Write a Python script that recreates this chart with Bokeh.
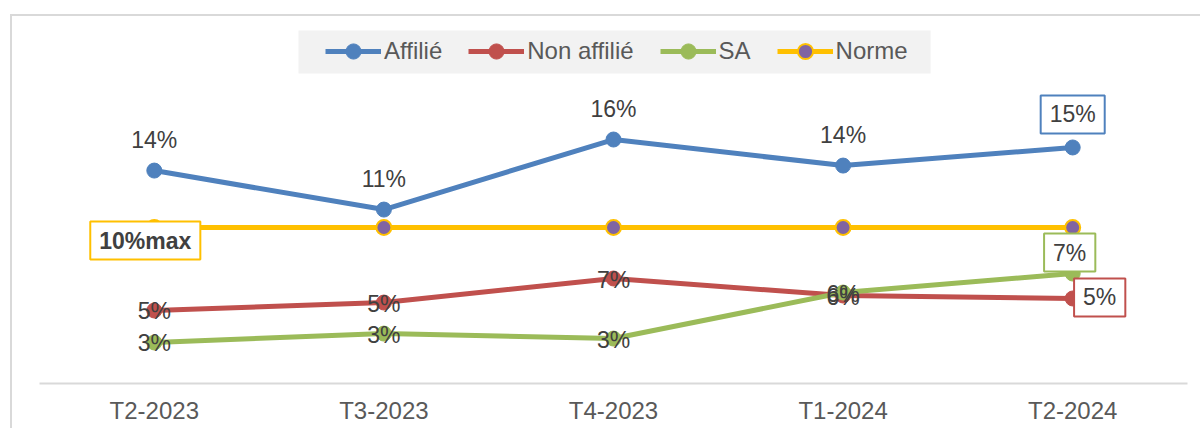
from bokeh.plotting import figure
from bokeh.models import (FactorRange, Range1d, Legend, LegendItem, BoxAnnotation,
                          ColumnDataSource)
from bokeh.core.properties import value
from bokeh.embed import file_html
from bokeh.resources import INLINE

# ---- data ----
categories = ["T2-2023", "T3-2023", "T4-2023", "T1-2024", "T2-2024"]
affilie = [13.65, 11.15, 15.64, 13.97, 15.13]
non_affilie = [4.68, 5.19, 6.73, 5.64, 5.45]
sa = [2.63, 3.20, 2.88, 5.83, 7.05]
norme = [10, 10, 10, 10, 10]
norme_label = "10%max"

FONT = "Liberation Sans"
C_AFF = "#4F81BD"
C_NON = "#C0504D"
C_SA = "#9BBB59"
C_NORME = "#FFC000"
C_NORME_FILL = "#8064A2"
TXT = "#404040"

def pct(v):
    return f"{round(v)}%"

p = figure(width=1190, height=414, x_range=FactorRange(factors=categories),
           y_range=Range1d(0, 23.27), output_backend="svg", toolbar_location=None,
           min_border_left=27, min_border_right=15, min_border_top=4,
           min_border_bottom=47,
           styles={"margin-left": "10px", "margin-top": "14px",
                   "border-left": "2px solid #d9d9d9",
                   "border-top": "2px solid #d9d9d9"})
p.outline_line_color = None
p.xgrid.visible = False
p.ygrid.visible = False
p.yaxis.visible = False
p.background_fill_color = "white"
p.border_fill_color = "white"

ax = p.xaxis[0]
ax.axis_line_color = "#d9d9d9"
ax.axis_line_width = 2
ax.major_tick_line_color = None
ax.minor_tick_line_color = None
ax.major_tick_out = 0
ax.major_tick_in = 0
ax.major_label_standoff = 13
ax.major_label_text_font = FONT
ax.major_label_text_font_size = "24px"
ax.major_label_text_color = "#595959"

# legend background
leg_bg = BoxAnnotation(left=1.128, right=3.881, top=22.63, bottom=19.87,
                       fill_color="#f2f2f2", fill_alpha=1, line_color=None)
p.add_layout(leg_bg)

series = [
    ("Affilié", affilie, C_AFF, C_AFF, C_AFF),
    ("Non affilié", non_affilie, C_NON, C_NON, C_NON),
    ("SA", sa, C_SA, C_SA, C_SA),
    ("Norme", norme, C_NORME, C_NORME_FILL, C_NORME),
]
items = []
for name, vals, lc, fc, oc in series:
    src = ColumnDataSource(dict(x=categories, y=vals))
    lr = p.line("x", "y", source=src, line_color=lc, line_width=5)
    sr = p.scatter("x", "y", source=src, size=15, fill_color=fc, line_color=oc,
                   line_width=2 if name == "Norme" else 1)
    items.append(LegendItem(label=name, renderers=[lr, sr]))

def labels(xs, ys, texts, xo=0, yo=0, border=None, bold=False):
    src = ColumnDataSource(dict(x=xs, y=ys, t=texts))
    kw = {}
    if border:
        kw = dict(border_line_color=border, border_line_width=2,
                  background_fill_color="white", padding=(9, 6))
    p.text("x", "y", text="t", source=src, x_offset=xo, y_offset=yo,
           text_align="center", text_baseline="middle",
           text_font=value(FONT), text_font_size="23px", text_color=TXT,
           text_font_style="bold" if bold else "normal", **kw)

# Affilié: above points, last boxed
labels(categories[:4], affilie[:4], [pct(v) for v in affilie[:4]], yo=-31)
labels(categories[4:], affilie[4:], [pct(v) for v in affilie[4:]], yo=-33, border=C_AFF)
# Non affilié: centred, last boxed to the right
labels(categories[:4], non_affilie[:4], [pct(v) for v in non_affilie[:4]], yo=1)
labels(categories[4:], non_affilie[4:], [pct(v) for v in non_affilie[4:]], xo=27, yo=-1, border=C_NON)
# SA: centred, last boxed above
labels(categories[:4], sa[:4], [pct(v) for v in sa[:4]], yo=1)
labels(categories[4:], sa[4:], [pct(v) for v in sa[4:]], xo=-3, yo=-21, border=C_SA)
# Norme: first point only
labels(categories[:1], norme[:1], [norme_label], xo=-9, yo=13, border=C_NORME, bold=True)

legend = Legend(items=items, orientation="horizontal", location=(286, 313),
                padding=0, spacing=26, glyph_width=56, glyph_height=38,
                label_standoff=3, label_text_font=FONT, label_text_font_size="24px",
                label_text_color="#595959", background_fill_alpha=0,
                border_line_color=None, margin=0)
p.add_layout(legend)

open("out.html", "w").write(file_html(p, INLINE))
